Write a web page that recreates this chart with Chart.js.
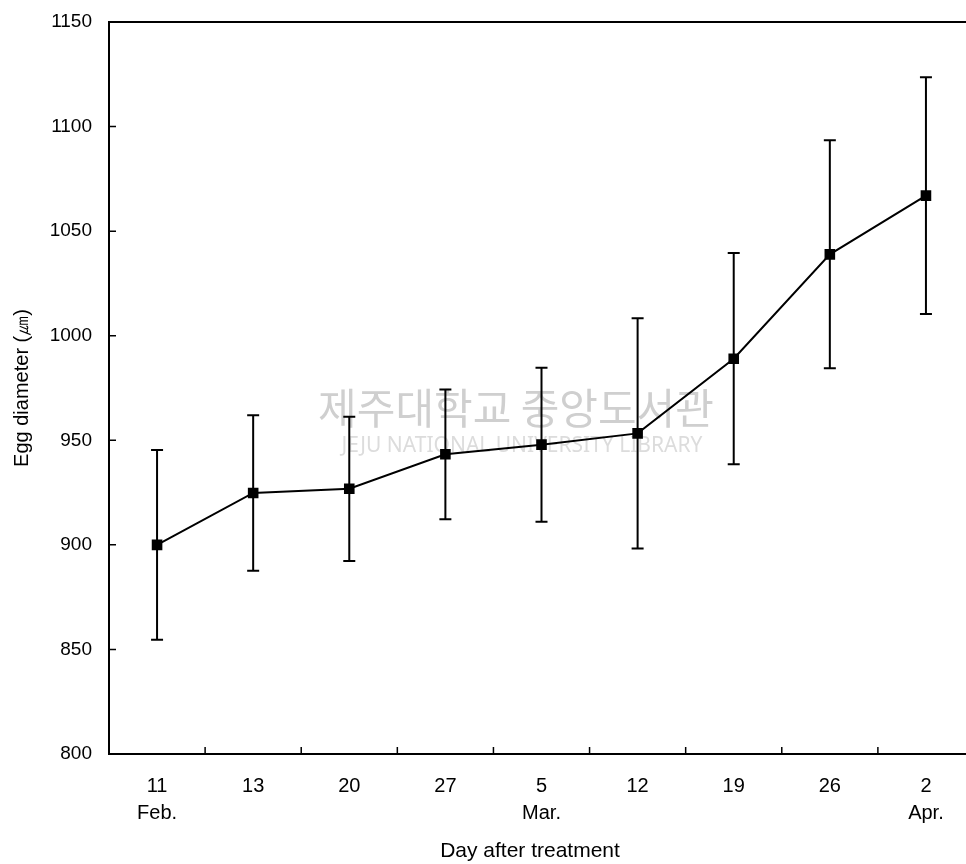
<!DOCTYPE html>
<html>
<head>
<meta charset="utf-8">
<script src="https://cdn.jsdelivr.net/npm/chart.js@4"></script>
<style>
  html, body { margin: 0; padding: 0; background: #fff; overflow: hidden; }
  #wrap { width: 966px; height: 864px; overflow: hidden; }
</style>
</head>
<body>
<div id="wrap"><canvas id="eggChart" width="982" height="864"></canvas></div>
<script>
// data
const days = ['11', '13', '20', '27', '5', '12', '19', '26', '2'];
const months = ['Feb.', '', '', '', 'Mar.', '', '', '', 'Apr.'];
const eggDiameter = [900, 924.8, 926.8, 943.3, 947.9, 953.3, 989, 1038.9, 1067];
const eggError = [45.4, 37.2, 34.5, 31, 36.8, 55, 50.5, 54.5, 56.6];
const yTicks = [800, 850, 900, 950, 1000, 1050, 1100, 1150];

const FONT = '"Liberation Sans", Arial, sans-serif';

// error bars, frame, inward tick marks, x title and the library watermark
const extras = {
    id: 'extras',
    beforeDatasetsDraw(chart) {
        const ctx = chart.ctx;
        const area = chart.chartArea;
        const x = chart.scales.x, y = chart.scales.y;

        // faint watermark
        ctx.save();
        ctx.textAlign = 'center';
        ctx.textBaseline = 'middle';
        ctx.fillStyle = '#cfcfcf';
        ctx.font = '42px "Noto Sans CJK KR", sans-serif';
        ctx.fillText('제주대학교 중앙도서관', 516, 408);
        ctx.fillStyle = '#dcdcdc';
        ctx.font = '21px "Noto Sans", sans-serif';
        ctx.fillText('JEJU NATIONAL UNIVERSITY LIBRARY', 522, 446);
        ctx.restore();

        // x axis title (sits a little left of the plot centre in the original)
        ctx.save();
        ctx.textAlign = 'center';
        ctx.textBaseline = 'middle';
        ctx.fillStyle = '#000';
        ctx.font = '21px ' + FONT;
        ctx.fillText('Day after treatment', 530, 851);
        ctx.restore();

        // error bars
        ctx.save();
        ctx.strokeStyle = '#000';
        ctx.lineWidth = 2;
        eggDiameter.forEach((v, i) => {
            const px = x.getPixelForValue(i);
            const top = y.getPixelForValue(v + eggError[i]);
            const bot = y.getPixelForValue(v - eggError[i]);
            ctx.beginPath();
            ctx.moveTo(px, top); ctx.lineTo(px, bot);
            ctx.moveTo(px - 6, top); ctx.lineTo(px + 6, top);
            ctx.moveTo(px - 6, bot); ctx.lineTo(px + 6, bot);
            ctx.stroke();
        });
        ctx.restore();

        // frame
        ctx.save();
        ctx.strokeStyle = '#000';
        ctx.lineWidth = 2;
        ctx.strokeRect(area.left, area.top, area.right - area.left, area.bottom - area.top);
        ctx.lineWidth = 1.5;
        ctx.beginPath();
        yTicks.forEach(t => {
            const py = y.getPixelForValue(t);
            ctx.moveTo(area.left, py); ctx.lineTo(area.left + 7, py);
        });
        for (let i = 1; i < days.length; i++) {
            const px = (x.getPixelForValue(i - 1) + x.getPixelForValue(i)) / 2;
            ctx.moveTo(px, area.bottom); ctx.lineTo(px, area.bottom - 7);
        }
        ctx.stroke();
        ctx.restore();
    }
};

const ctx = document.getElementById('eggChart').getContext('2d');
new Chart(ctx, {
    type: 'line',
    data: {
        labels: days.map((d, i) => [d, months[i]]),
        datasets: [{
            label: 'Egg diameter',
            data: eggDiameter,
            borderColor: '#000',
            backgroundColor: '#000',
            borderWidth: 2,
            pointStyle: 'rect',
            pointRadius: 7.5,
            pointBorderWidth: 0,
            tension: 0
        }]
    },
    options: {
        responsive: false,
        animation: false,
        layout: { padding: { top: 22, right: 8, left: 0, bottom: 0 } },
        plugins: {
            legend: { display: false },
            tooltip: { enabled: false }
        },
        scales: {
            x: {
                offset: true,
                grid: { display: false, offset: true },
                border: { display: false },
                afterFit(scale) {
                    scale.height = 110;
                    scale.paddingLeft = 0;
                    scale.paddingRight = 0;
                },
                ticks: {
                    color: '#000',
                    padding: 11,
                    maxRotation: 0,
                    autoSkip: false,
                    font: { family: FONT, size: 20, lineHeight: 1.35 }
                }
            },
            y: {
                min: 800,
                max: 1150,
                grid: { display: false },
                border: { display: false },
                afterFit(scale) {
                    scale.width = 109;
                    scale.paddingTop = 0;
                    scale.paddingBottom = 0;
                },
                afterBuildTicks(scale) { scale.ticks = yTicks.map(v => ({ value: v })); },
                ticks: {
                    color: '#000',
                    padding: 9,
                    font: { family: FONT, size: 19 },
                    callback: v => String(v)
                },
                title: {
                    display: true,
                    text: 'Egg diameter (㎛)',
                    color: '#000',
                    padding: { top: 10, bottom: 0 },
                    font: { family: FONT, size: 20 }
                }
            }
        }
    },
    plugins: [extras]
});
</script>
</body>
</html>
